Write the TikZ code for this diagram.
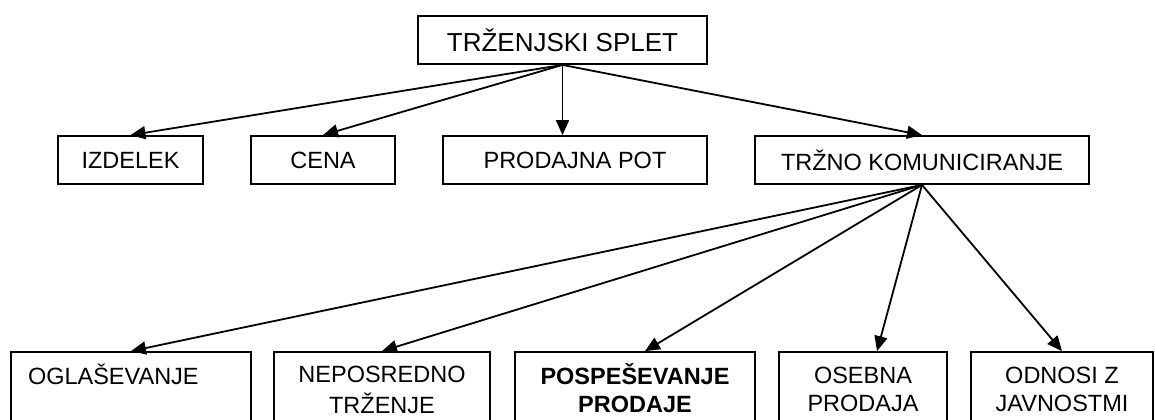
\documentclass[tikz,border=0pt]{standalone}
\usepackage{fontspec}
\setmainfont{Liberation Sans}
\usetikzlibrary{arrows.meta}
\begin{document}
\begin{tikzpicture}[x=0.5pt, y=-0.5pt,
    box/.style={draw, rectangle, line width=0.9pt, inner sep=0pt, minimum height=24pt,
        font=\fontsize{11.75}{14}\selectfont},
    tall/.style={box, minimum height=40pt, align=center},
    arr/.style={draw, line width=0.9pt, -{Triangle[length=7.5pt, width=6.5pt]}}]

        \clip (0,0) rectangle (1155,419);

        \node[box, minimum width=144.5pt, font=\fontsize{13}{15}\selectfont] (a) at (562.5,40)
        {TRŽENJSKI SPLET};

        \node[box, minimum width=72.5pt] (b) at (130.5,160) {IZDELEK};
        \node[box, minimum width=72pt] (c) at (323,160) {CENA};
        \node[box, minimum width=132pt] (d) at (575,160) {PRODAJNA POT};
        \node[box, minimum width=167pt] (e) at (922,160) {TRŽNO KOMUNICIRANJE};
        \path[arr] (a.south) -- (b.north);
        \path[arr] (a.south) -- (c.north);
        \path[arr] (a.south) -- (d.north -| a.south);
        \path[arr] (a.south) -- (e.north);

        \node[tall, minimum width=120pt, align=left, text width=103pt] (f) at (131,392)
        {\strut OGLAŠEVANJE\\\strut};
        \node[tall, minimum width=108pt] (g) at (382,392)
        {\strut NEPOSREDNO\\\strut TRŽENJE};
        \node[tall, minimum width=120pt, font=\fontsize{11.75}{14}\selectfont\bfseries] (h) at (635,392)
        {\strut POSPEŠEVANJE\\\strut PRODAJE};
        \node[tall, minimum width=84pt] (i) at (863,392)
        {\strut OSEBNA\\\strut PRODAJA};
        \node[tall, minimum width=91pt] (j) at (1062,392)
        {\strut ODNOSI Z\\\strut JAVNOSTMI};
        \path[arr] (e.south) -- (f.north);
        \path[arr] (e.south) -- (g.north);
        \path[arr] (e.south) -- ([xshift=5pt]h.north);
        \path[arr] (e.south) -- ([xshift=7pt]i.north);
        \path[arr] (e.south) -- (j.north);
    \end{tikzpicture}
\end{document}
